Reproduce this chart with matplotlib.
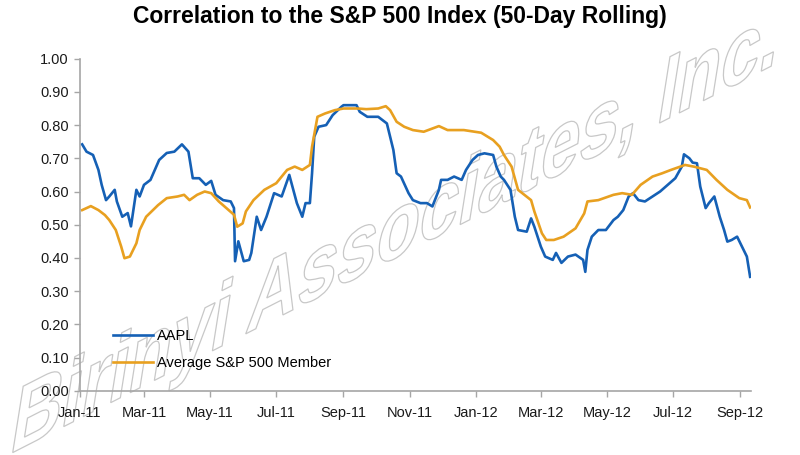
import matplotlib
matplotlib.use("Agg")
import matplotlib.pyplot as plt
import matplotlib.dates as mdates
from matplotlib.textpath import TextPath
from matplotlib.patches import PathPatch
from matplotlib.font_manager import FontProperties
from matplotlib.transforms import Affine2D, IdentityTransform
import pandas as pd

# AAPL 50-day rolling correlation
aapl_dates = ["2011-01-03", "2011-01-07", "2011-01-13", "2011-01-18", "2011-01-21", "2011-01-25",
              "2011-01-28", "2011-02-02", "2011-02-04", "2011-02-09", "2011-02-14", "2011-02-17",
              "2011-02-22", "2011-02-25", "2011-03-01", "2011-03-07", "2011-03-15", "2011-03-22",
              "2011-03-29", "2011-04-05", "2011-04-11", "2011-04-15", "2011-04-21", "2011-04-27",
              "2011-05-02", "2011-05-06", "2011-05-13", "2011-05-20", "2011-05-23", "2011-05-24",
              "2011-05-27", "2011-06-01", "2011-06-06", "2011-06-08", "2011-06-13", "2011-06-17",
              "2011-06-22", "2011-06-29", "2011-07-06", "2011-07-13", "2011-07-20", "2011-07-25",
              "2011-07-28", "2011-08-01", "2011-08-03", "2011-08-05", "2011-08-09", "2011-08-16",
              "2011-08-22", "2011-08-30", "2011-09-01", "2011-09-13", "2011-09-16", "2011-09-23",
              "2011-10-03", "2011-10-11", "2011-10-17", "2011-10-20", "2011-10-24", "2011-10-31",
              "2011-11-04", "2011-11-11", "2011-11-17", "2011-11-22", "2011-11-28", "2011-11-30",
              "2011-12-06", "2011-12-12", "2011-12-19", "2011-12-23", "2011-12-29", "2012-01-03",
              "2012-01-09", "2012-01-17", "2012-01-20", "2012-01-24", "2012-01-27", "2012-02-02",
              "2012-02-06", "2012-02-09", "2012-02-17", "2012-02-21", "2012-02-24", "2012-03-01",
              "2012-03-05", "2012-03-12", "2012-03-15", "2012-03-20", "2012-03-26", "2012-04-02",
              "2012-04-09", "2012-04-11", "2012-04-13", "2012-04-17", "2012-04-23", "2012-04-30",
              "2012-05-07", "2012-05-11", "2012-05-16", "2012-05-21", "2012-05-25", "2012-05-30",
              "2012-06-05", "2012-06-12", "2012-06-19", "2012-06-26", "2012-07-03", "2012-07-09",
              "2012-07-11", "2012-07-16", "2012-07-19", "2012-07-23", "2012-07-26", "2012-07-31",
              "2012-08-03", "2012-08-08", "2012-08-13", "2012-08-17", "2012-08-20", "2012-08-24",
              "2012-08-29", "2012-09-04", "2012-09-07", "2012-09-10"]
aapl_vals = [0.742, 0.72, 0.71, 0.665, 0.62, 0.574,
             0.585, 0.605, 0.57, 0.524, 0.535, 0.495,
             0.605, 0.585, 0.62, 0.635, 0.695, 0.716,
             0.72, 0.742, 0.72, 0.64, 0.64, 0.62,
             0.632, 0.59, 0.574, 0.57, 0.55, 0.39,
             0.45, 0.39, 0.394, 0.415, 0.524, 0.484,
             0.524, 0.595, 0.585, 0.65, 0.565, 0.524,
             0.565, 0.565, 0.655, 0.765, 0.795, 0.80,
             0.83, 0.855, 0.86, 0.86, 0.84, 0.825,
             0.825, 0.805, 0.725, 0.655, 0.645, 0.595,
             0.574, 0.565, 0.565, 0.555, 0.605, 0.635,
             0.635, 0.645, 0.635, 0.665, 0.695, 0.71,
             0.715, 0.71, 0.675, 0.645, 0.635, 0.605,
             0.524, 0.484, 0.479, 0.519, 0.494, 0.434,
             0.404, 0.394, 0.415, 0.385, 0.404, 0.41,
             0.394, 0.358, 0.424, 0.464, 0.484, 0.484,
             0.514, 0.524, 0.544, 0.585, 0.595, 0.574,
             0.57, 0.585, 0.60, 0.62, 0.64, 0.675,
             0.712, 0.70, 0.687, 0.685, 0.615, 0.55,
             0.565, 0.585, 0.524, 0.484, 0.449, 0.454,
             0.464, 0.424, 0.404, 0.343]

# average S&P 500 member
avg_dates = ["2011-01-03", "2011-01-11", "2011-01-18", "2011-01-24", "2011-01-28", "2011-02-03",
             "2011-02-08", "2011-02-11", "2011-02-16", "2011-02-22", "2011-02-25", "2011-03-03",
             "2011-03-14", "2011-03-22", "2011-04-01", "2011-04-07", "2011-04-12", "2011-04-19",
             "2011-04-26", "2011-05-02", "2011-05-09", "2011-05-16", "2011-05-23", "2011-05-26",
             "2011-05-31", "2011-06-03", "2011-06-10", "2011-06-20", "2011-07-01", "2011-07-11",
             "2011-07-18", "2011-07-25", "2011-08-01", "2011-08-03", "2011-08-08", "2011-08-15",
             "2011-08-24", "2011-09-01", "2011-09-14", "2011-09-22", "2011-10-03", "2011-10-10",
             "2011-10-14", "2011-10-20", "2011-10-27", "2011-11-04", "2011-11-14", "2011-11-28",
             "2011-12-06", "2011-12-21", "2012-01-06", "2012-01-17", "2012-01-23", "2012-01-27",
             "2012-02-03", "2012-02-09", "2012-02-21", "2012-02-24", "2012-03-02", "2012-03-06",
             "2012-03-13", "2012-03-22", "2012-04-02", "2012-04-10", "2012-04-13", "2012-04-23",
             "2012-05-07", "2012-05-15", "2012-05-24", "2012-06-01", "2012-06-12", "2012-06-21",
             "2012-06-29", "2012-07-12", "2012-07-20", "2012-08-01", "2012-08-10", "2012-08-20",
             "2012-08-31", "2012-09-07", "2012-09-10"]
avg_vals = [0.544, 0.556, 0.544, 0.529, 0.514, 0.484,
            0.434, 0.399, 0.404, 0.444, 0.484, 0.524,
            0.559, 0.58, 0.585, 0.59, 0.574, 0.59,
            0.60, 0.595, 0.57, 0.55, 0.53, 0.494,
            0.504, 0.54, 0.574, 0.605, 0.625, 0.665,
            0.675, 0.665, 0.68, 0.735, 0.825, 0.835,
            0.845, 0.85, 0.85, 0.848, 0.85, 0.857,
            0.845, 0.81, 0.795, 0.785, 0.78, 0.797,
            0.785, 0.785, 0.777, 0.755, 0.735, 0.71,
            0.675, 0.605, 0.574, 0.54, 0.474, 0.454,
            0.454, 0.464, 0.489, 0.534, 0.57, 0.574,
            0.59, 0.595, 0.59, 0.62, 0.645, 0.655,
            0.665, 0.68, 0.675, 0.665, 0.635, 0.605,
            0.58, 0.574, 0.552]

aapl = pd.Series(aapl_vals, index=pd.to_datetime(aapl_dates))
avg = pd.Series(avg_vals, index=pd.to_datetime(avg_dates))

plt.rcParams['font.family'] = ['Liberation Sans', 'DejaVu Sans']

fig = plt.figure(figsize=(8, 4.55), dpi=100)
ax = fig.add_axes([0.1, 0.1413, 0.839, 0.7297])
ax.set_facecolor('none')

# watermark, outlined and slanted
fp = FontProperties(family='Liberation Sans', weight='bold')
tp = TextPath((0, 0), "Birinyi Associates, Inc.", size=79, prop=fp)
tr = Affine2D().skew_deg(36, 0).rotate_deg(27).translate(8, 0) + IdentityTransform()
wm = PathPatch(tp, transform=tr, facecolor='none', edgecolor='#c8c8c8', lw=0.9, zorder=-1)
fig.add_artist(wm)

ax.plot(aapl.index, aapl.values, color='#1560B5', lw=1.9, label='AAPL')
ax.plot(avg.index, avg.values, color='#E8A020', lw=1.9, label='Average S&P 500 Member')

ax.set_ylim(0, 1.0)
ax.set_yticks([i / 10 for i in range(11)])
ax.yaxis.set_major_formatter(matplotlib.ticker.FormatStrFormatter('%.2f'))
ax.set_xlim(pd.Timestamp('2011-01-01'), pd.Timestamp('2012-09-11'))
ax.xaxis.set_major_locator(mdates.MonthLocator(bymonth=[1, 3, 5, 7, 9, 11]))
ax.xaxis.set_major_formatter(mdates.DateFormatter('%b-%y'))

for s in ['top', 'right']:
    ax.spines[s].set_visible(False)
for s in ['left', 'bottom']:
    ax.spines[s].set_color('#a6a6a6')
    ax.spines[s].set_linewidth(1.2)
ax.tick_params(axis='both', colors='#a6a6a6', labelcolor='#1a1a1a', labelsize=10.5, length=4, width=1)
ax.tick_params(axis='y', pad=4)
ax.tick_params(axis='x', pad=7)

fig.text(0.5, 1 - 17 / 455, "Correlation to the S&P 500 Index (50-Day Rolling)",
         ha='center', va='center', fontsize=16.5, fontweight='bold', color='black')

ax.legend(loc='center left', bbox_to_anchor=(0.049, 0.124), frameon=False, fontsize=10.5,
          handlelength=2.75, handletextpad=0.3, labelspacing=0.95, borderpad=0, borderaxespad=0)

fig.savefig('out.png', dpi=100)
